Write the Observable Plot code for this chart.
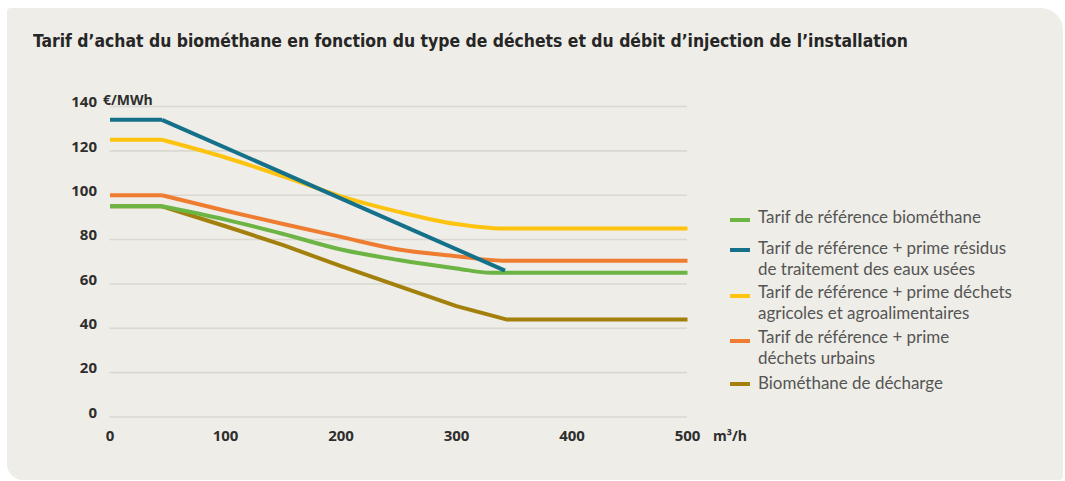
<!DOCTYPE html>
<html>
<head>
<meta charset="utf-8">
<script src="https://cdn.jsdelivr.net/npm/d3@7"></script>
<script src="https://cdn.jsdelivr.net/npm/@observablehq/plot@0.6"></script>
<style>
  html, body { margin: 0; padding: 0; background: #ffffff; }
  body { width: 1065px; height: 481px; position: relative; overflow: hidden; }
  #card { position: absolute; left: 7px; top: 8px; width: 1056px; height: 472px;
          background: #eeede7; border-radius: 4px 22px 4px 16px; }
  #title { position: absolute; left: 33px; top: 30px; white-space: nowrap;
           font-family: "Liberation Sans Narrow", "DejaVu Sans Condensed", "Open Sans", sans-serif;
           font-weight: bold; font-size: 18px; color: #262626; transform-origin: 0 50%; }
  .unit { position: absolute; font-family: "Open Sans", sans-serif; font-weight: 700;
          font-size: 14px; color: #2e2e2e; white-space: nowrap; line-height: 1; }
  #chart { position: absolute; left: 0; top: 0; }
  #legend { position: absolute; left: 730px; top: 0; width: 330px; font-family: "Lato", "Open Sans", sans-serif;
            font-size: 15px; color: #555; }
  .sw { position: absolute; left: 0; width: 20px; height: 4px; }
  .txt { position: absolute; left: 28px; line-height: 21px; white-space: nowrap; }
</style>
</head>
<body>
<div id="card"></div>
<div id="title">Tarif d’achat du biométhane en fonction du type de déchets et du débit d’injection de l’installation</div>
<div id="chart"></div>
<div class="unit" id="uy" style="left:103px; top:93px;">€/MWh</div>
<div class="unit" id="ux" style="left:713px; top:429px;">m³/h</div>
<div id="legend"></div>
<script>
// ---- data ----
const seriesNames = [
  "Tarif de référence biométhane",
  "Tarif de référence + prime résidus\nde traitement des eaux usées",
  "Tarif de référence + prime déchets\nagricoles et agroalimentaires",
  "Tarif de référence + prime\ndéchets urbains",
  "Biométhane de décharge"
];
const refX    = [0, 45, 100, 150, 200, 250, 300, 330, 500];
const refY    = [95, 95, 89, 82.5, 75.5, 70.8, 67, 65, 65];
const eauxX   = [0, 45, 342];
const eauxY   = [134, 134, 66];
const agriX   = [0, 45, 100, 150, 200, 250, 300, 340, 500];
const agriY   = [125, 125, 117, 108.5, 99.5, 92.5, 87, 85, 85];
const urbX    = [0, 45, 100, 150, 200, 250, 300, 340, 500];
const urbY    = [100, 100, 93, 87, 81.2, 75.5, 72.5, 70.5, 70.5];
const decX    = [0, 45, 100, 150, 200, 250, 300, 343, 500];
const decY    = [95, 95, 86, 77.5, 68, 59, 50, 44, 44];
const xTicks  = [0, 100, 200, 300, 400, 500];
const yTicks  = [0, 20, 40, 60, 80, 100, 120, 140];

// ---- styles ----
const colors = ["#6cb443", "#15718a", "#fdc30f", "#ef7d31", "#a2800b"];
const curves = ["monotone-x", "linear", "monotone-x", "monotone-x", "linear"];

const seriesX = [refX, eauxX, agriX, urbX, decX];
const seriesY = [refY, eauxY, agriY, urbY, decY];
const tables = seriesX.map((xs, i) => xs.map((x, j) => ({x, y: seriesY[i][j], s: seriesNames[i]})));

const lineMarks = [];
const drawOrder = [4, 0, 3, 2, 1];
for (const i of drawOrder) {
  const t = tables[i];
  const flat = t.filter(d => d.x <= 45);
  const rest = t.filter(d => d.x >= 45);
  const opts = {x: "x", y: "y", stroke: colors[i], strokeWidth: 4, strokeLinejoin: "round", strokeLinecap: "butt"};
  lineMarks.push(Plot.line(flat, {...opts, curve: "linear"}));
  lineMarks.push(Plot.line(rest, {...opts, curve: curves[i]}));
}

const W = 1065, H = 481;
const chart = Plot.plot({
  width: W, height: H,
  marginLeft: 109.5, marginRight: 378, marginTop: 106, marginBottom: 64.5,
  style: {background: "transparent", fontFamily: "'Open Sans', sans-serif", fontSize: "15px", fontWeight: 700, color: "#2e2e2e", overflow: "visible"},
  x: {domain: [0, 500]},
  y: {domain: [0, 140]},
  marks: [
    Plot.gridY(yTicks, {stroke: "#dad8d0", strokeOpacity: 1, strokeWidth: 1.6}),
    Plot.axisY(yTicks, {tickSize: 0, tickPadding: 13, dy: -4, label: null, fill: "#2e2e2e"}),
    Plot.axisX(xTicks, {tickSize: 0, tickPadding: 13, label: null, fill: "#2e2e2e"}),
    ...lineMarks
  ]
});
document.getElementById("chart").appendChild(chart);

// legend
const legend = document.getElementById("legend");
const rowsTop = [205.5, 237, 281, 326, 371.5];
const swTop   = [218, 248, 294, 339, 382];
const txts = [];
seriesNames.forEach((name, i) => {
  const sw = document.createElement("div");
  sw.className = "sw"; sw.style.top = swTop[i] + "px"; sw.style.background = colors[i];
  legend.appendChild(sw);
  const tx = document.createElement("div");
  tx.className = "txt"; tx.style.top = rowsTop[i] + "px";
  tx.innerHTML = name.split("\n").join("<br>");
  legend.appendChild(tx);
  txts.push(tx);
});
// fit legend font so the first entry spans ~223px as in the reference
const w0 = txts[0].getBoundingClientRect().width;
legend.style.fontSize = (15 * 223 / w0).toFixed(2) + "px";

// fit title width
const title = document.getElementById("title");
const tw = title.getBoundingClientRect().width;
title.style.transform = `scaleX(${875 / tw})`;
</script>
</body>
</html>
